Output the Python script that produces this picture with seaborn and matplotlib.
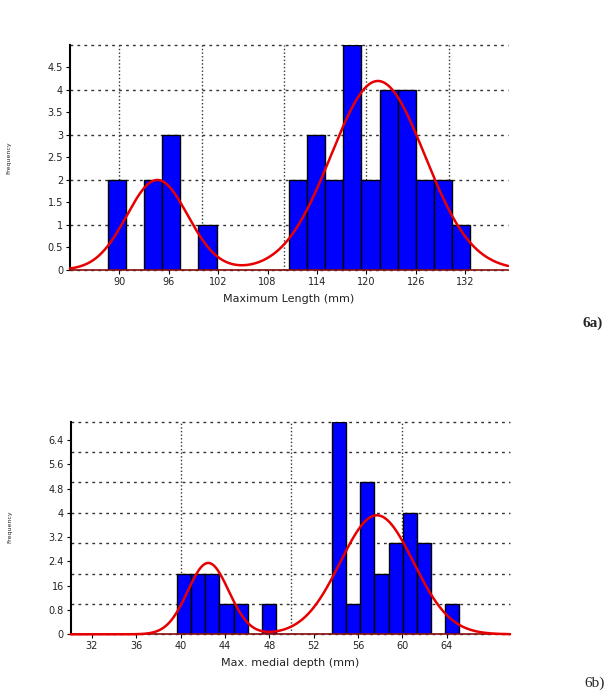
import numpy as np
import pandas as pd
import matplotlib
matplotlib.use("Agg")
import matplotlib.pyplot as plt
from matplotlib.ticker import MultipleLocator, FixedLocator
import seaborn as sns

# 6a) maximum length histogram (bin counts read from the figure)
len_bin_start = 88.6
len_bin_width = 2.2
len_counts = [2, 0, 2, 3, 0, 1, 0, 0, 0, 0, 2, 3, 2, 5, 2, 4, 4, 2, 2, 1]
len_fit_means = [94.6, 121.4]
len_fit_sds = [3.7, 5.7]
len_fit_peaks = [2.0, 4.2]
len_xticks = [90, 96, 102, 108, 114, 120, 126, 132]
len_yticks = [0, 0.5, 1, 1.5, 2, 2.5, 3, 3.5, 4, 4.5]
len_yticklabels = ["0", "0.5", "1", "1.5", "2", "2.5", "3", "3.5", "4", "4.5"]

# 6b) max. medial depth histogram
dep_bin_start = 39.7
dep_bin_width = 1.27
dep_counts = [2, 2, 2, 1, 1, 0, 1, 0, 0, 0, 0, 7, 1, 5, 2, 3, 4, 3, 0, 1]
dep_fit_means = [42.5, 57.7]
dep_fit_sds = [1.85, 3.3]
dep_fit_peaks = [2.35, 3.92]
dep_xticks = [32, 36, 40, 44, 48, 52, 56, 60, 64]
dep_yticks = [0, 0.8, 1.6, 2.4, 3.2, 4, 4.8, 5.6, 6.4]
dep_yticklabels = ["0", "0.8", "16", "2.4", "3.2", "4", "4.8", "5.6", "6.4"]

sns.set_style("white")
plt.rcParams["font.family"] = ["DejaVu Sans"]

fig = plt.figure(figsize=(6.11, 6.94), dpi=100)
ax_a = fig.add_axes([0.1146, 0.6110, 0.7168, 0.3242])
ax_b = fig.add_axes([0.1157, 0.0860, 0.7190, 0.3063])


def draw_panel(ax, start, width, counts, means, sds, peaks, xlim, ylim,
               xticks, yticks, yticklabels, xgrid, xlabel):
    counts = np.asarray(counts, dtype=float)
    edges = start + width * np.arange(len(counts) + 1)
    centers = (edges[:-1] + edges[1:]) / 2
    df = pd.DataFrame({"x": centers, "n": counts})
    sns.histplot(data=df, x="x", weights="n", bins=list(edges), ax=ax,
                 color="#0000FF", edgecolor="black", linewidth=1.0,
                 alpha=1)

    xs = np.linspace(xlim[0], xlim[1], 600)
    ys = np.zeros_like(xs)
    for m, s, p in zip(means, sds, peaks):
        ys += p * np.exp(-0.5 * ((xs - m) / s) ** 2)
    sns.lineplot(x=xs, y=ys, ax=ax, color="#E80000", linewidth=1.8,
                 zorder=4, clip_on=False)

    ax.set_xlim(*xlim)
    ax.set_ylim(*ylim)
    ax.set_xticks(xticks)
    ax.set_xticklabels([str(t) for t in xticks])
    ax.set_yticks(yticks)
    ax.set_yticklabels(yticklabels)
    # grid sits on round values, not on the labelled ticks
    ax.xaxis.remove_overlapping_locs = False
    ax.yaxis.remove_overlapping_locs = False
    ax.xaxis.set_minor_locator(FixedLocator(xgrid))
    ax.yaxis.set_minor_locator(MultipleLocator(1))
    ax.set_axisbelow(True)
    ax.xaxis.grid(True, which="minor", color="#333333", linewidth=1.0,
                  linestyle=(0, (1, 1.6)), clip_on=False)
    ax.yaxis.grid(True, which="minor", color="#333333", linewidth=1.0,
                  linestyle=(0, (2, 3)), clip_on=False)
    ax.grid(False, which="major")
    ax.tick_params(which="minor", length=0)
    ax.tick_params(which="major", direction="out", length=3, width=0.8,
                   labelsize=7, color="black", labelcolor="#222222", pad=2,
                   bottom=True, left=True)
    for side in ("top", "right"):
        ax.spines[side].set_visible(False)
    ax.spines["left"].set_color("black")
    ax.spines["left"].set_linewidth(1.5)
    ax.spines["bottom"].set_color("#8B1010")
    ax.spines["bottom"].set_linewidth(1.2)
    ax.set_xlabel(xlabel, fontsize=8, color="#222222", labelpad=5)
    ax.set_ylabel("")


draw_panel(ax_a, len_bin_start, len_bin_width, len_counts, len_fit_means,
           len_fit_sds, len_fit_peaks, (84.0, 137.2), (0, 5),
           len_xticks, len_yticks, len_yticklabels, [90, 100, 110, 120, 130],
           "Maximum Length (mm)")
draw_panel(ax_b, dep_bin_start, dep_bin_width, dep_counts, dep_fit_means,
           dep_fit_sds, dep_fit_peaks, (30.1, 69.7), (0, 7),
           dep_xticks, dep_yticks, dep_yticklabels, [40, 50, 60],
           "Max. medial depth (mm)")

fig.text(0.014, 0.773, "Frequency", rotation=90, fontsize=4.5,
         ha="center", va="center")
fig.text(0.016, 0.2406, "Frequency", rotation=90, fontsize=4.5,
         ha="center", va="center")

fig.text(0.987, 0.534, "6a)", fontsize=11, fontweight="bold",
         family=["Liberation Serif"], ha="right", va="center")
fig.text(0.990, 0.015, "6b)", fontsize=11,
         family=["Liberation Serif"], ha="right", va="center")

fig.savefig("out.png", dpi=100)
